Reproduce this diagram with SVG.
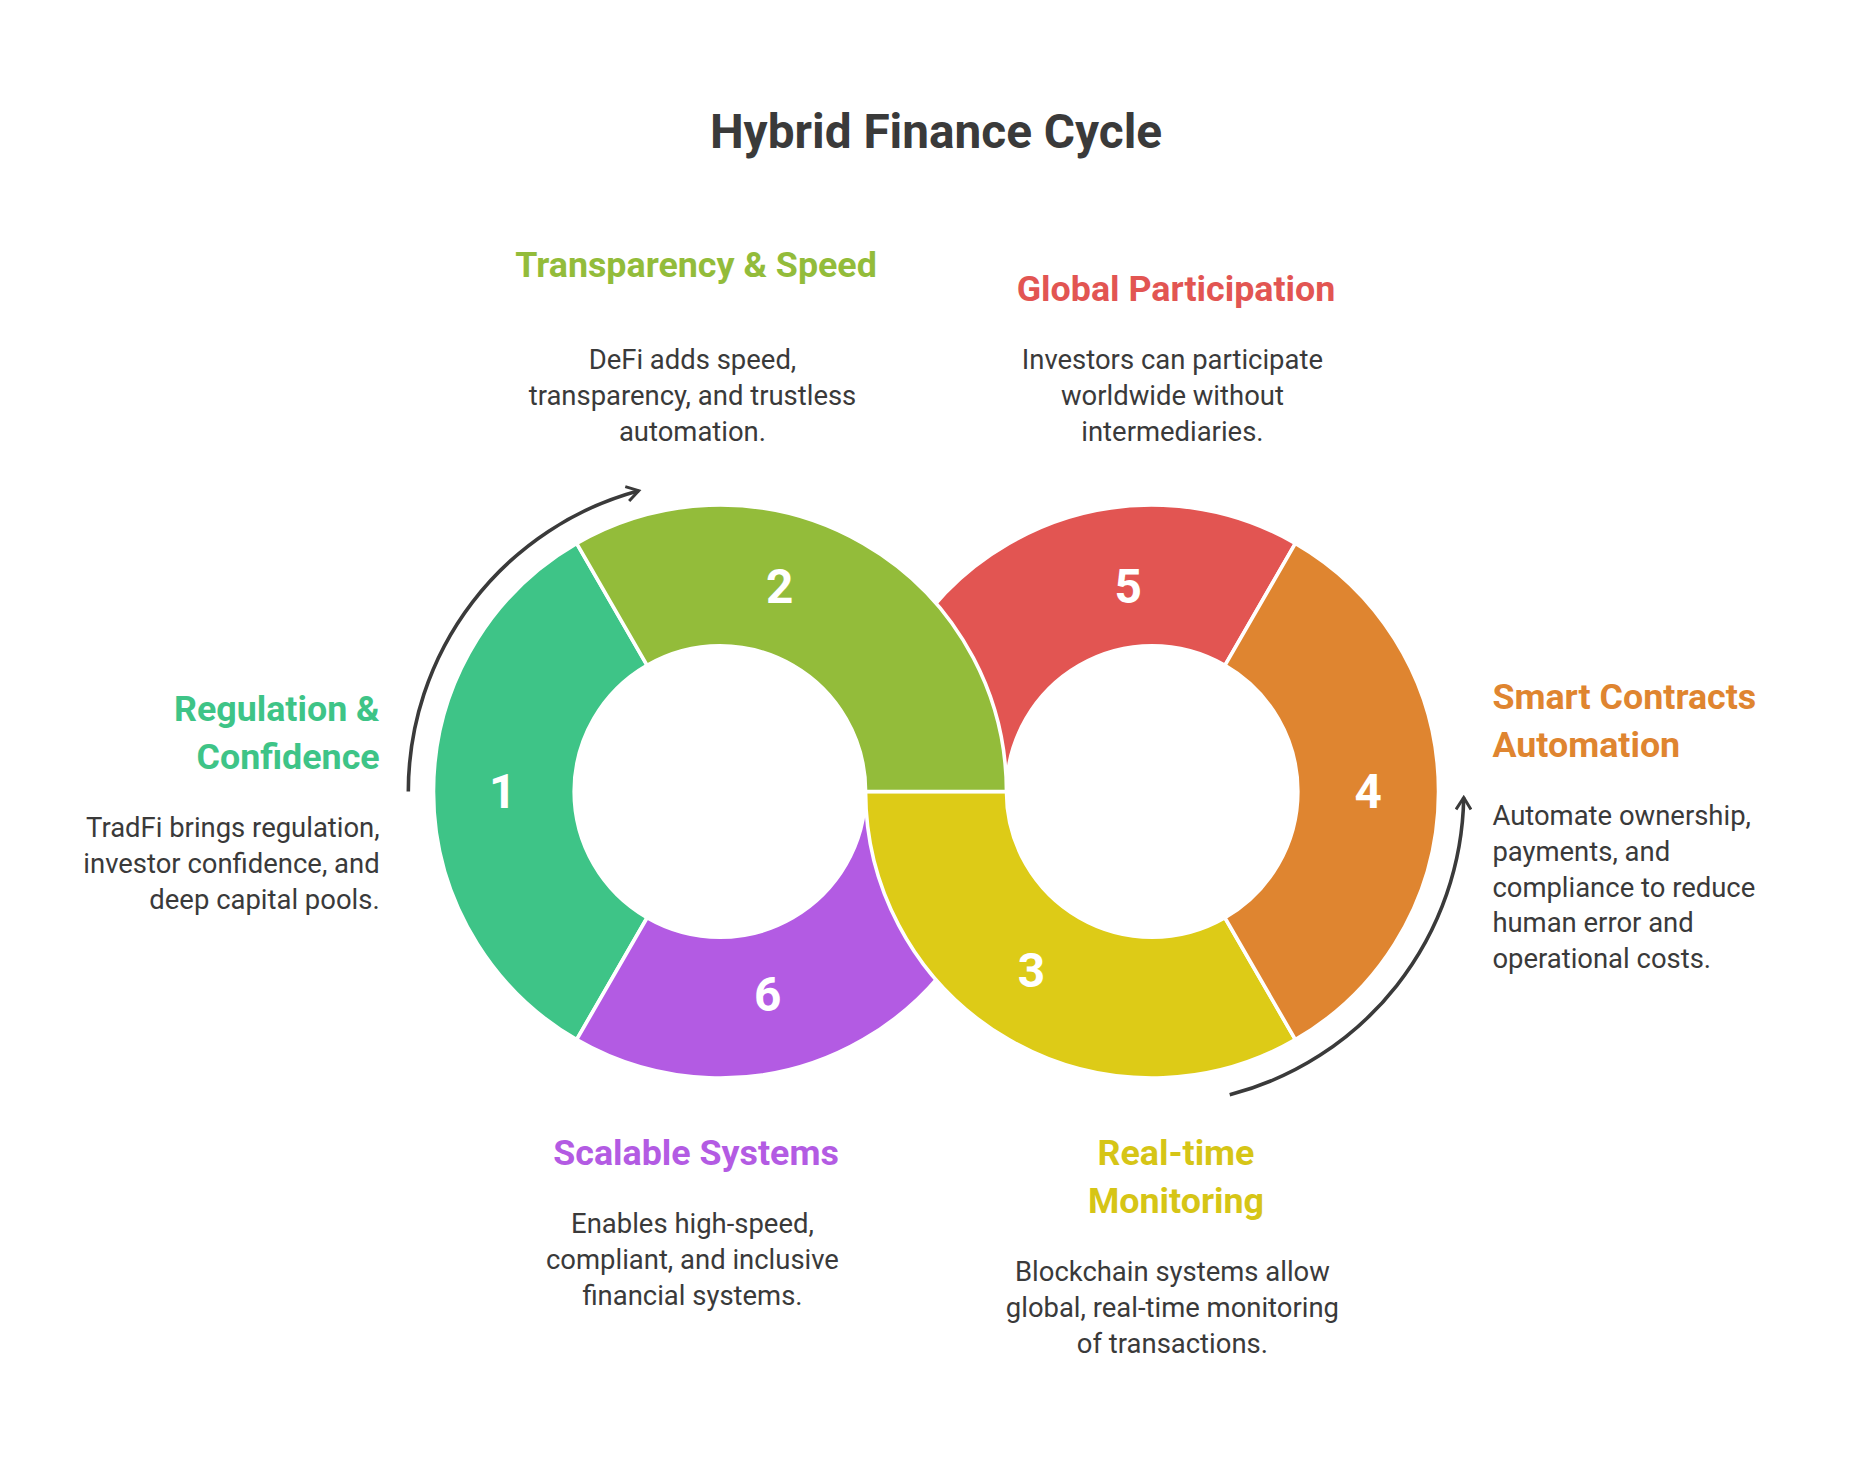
<svg xmlns="http://www.w3.org/2000/svg" width="1872" height="1464" viewBox="0 0 1872 1464">
<style>
text{font-family:Roboto,"Liberation Sans",sans-serif}
.t{font-size:40px;font-weight:700;fill:#3a3a3a}
.h{font-size:30px;font-weight:700}
.d{font-size:23px;fill:#3a3a3a}
.n{font-size:40px;font-weight:700;fill:#fff;text-anchor:middle;dominant-baseline:central}
.seg{stroke:#fff;stroke-width:3;stroke-linejoin:round}
.arc{fill:none;stroke:#3a3a3a;stroke-width:3;marker-end:url(#ah)}
</style>
<defs>
<marker id="ah" viewBox="0 0 12 12" refX="10" refY="6" markerWidth="5" markerHeight="5" orient="auto" markerUnits="strokeWidth">
<path d="M2,1 L10,6 L2,11" fill="none" stroke="#3a3a3a" stroke-width="2"/>
</marker>
</defs>
<rect width="1872" height="1464" fill="#fff"/>
<g transform="scale(1.1939)">
<text class="t" x="784" y="124" text-anchor="middle">Hybrid Finance Cycle</text>
<g id="connectors">
<path class="arc" d="M342,663 A261,261 0 0 1 535,411"/>
<path class="arc" d="M1030,917 A262,262 0 0 0 1226,668"/>
</g>
<g id="seg1"><path class="seg" fill="#3EC487" d="M483,455.2 A240,240 0 0 0 483,870.8 L542,768.7 A122,122 0 0 1 542,557.3 Z"/><text class="n" x="421" y="663">1</text></g>
<g id="seg6"><path class="seg" fill="#B35BE3" d="M843,663 A240,240 0 0 1 483,870.8 L542,768.7 A122,122 0 0 0 725,663 Z"/></g>
<g id="seg3"><path class="seg" fill="#DDCB17" d="M1085,870.8 A240,240 0 0 1 725,663 L843,663 A122,122 0 0 0 1026,768.7 Z"/><text class="n" x="864" y="813">3</text></g>
<text class="n" x="643" y="833">6</text>
<g id="seg5"><path class="seg" fill="#E25552" d="M725,663 A240,240 0 0 1 1085,455.2 L1026,557.3 A122,122 0 0 0 843,663 Z"/></g>
<g id="seg2"><path class="seg" fill="#93BC3A" d="M483,455.2 A240,240 0 0 1 843,663 L725,663 A122,122 0 0 0 542,557.3 Z"/><text class="n" x="653" y="492">2</text></g>
<text class="n" x="945" y="492">5</text>
<g id="seg4"><path class="seg" fill="#DF8530" d="M1085,455.2 A240,240 0 0 1 1085,870.8 L1026,768.7 A122,122 0 0 0 1026,557.3 Z"/><text class="n" x="1146" y="663">4</text></g>
<g id="label2"><text class="h" x="583" y="232" text-anchor="middle" fill="#93BC3A">Transparency &amp; Speed</text>
<text class="d" text-anchor="middle"><tspan x="580" y="309">DeFi adds speed,</tspan><tspan x="580" y="339">transparency, and trustless</tspan><tspan x="580" y="369">automation.</tspan></text></g>
<g id="label5"><text class="h" x="985" y="252" text-anchor="middle" fill="#E25552">Global Participation</text>
<text class="d" text-anchor="middle"><tspan x="982" y="309">Investors can participate</tspan><tspan x="982" y="339">worldwide without</tspan><tspan x="982" y="369">intermediaries.</tspan></text></g>
<g id="label1"><text class="h" text-anchor="end" fill="#3EC487"><tspan x="318" y="604">Regulation &amp;</tspan><tspan x="318" y="644">Confidence</tspan></text>
<text class="d" text-anchor="end"><tspan x="318" y="701">TradFi brings regulation,</tspan><tspan x="318" y="731">investor confidence, and</tspan><tspan x="318" y="761">deep capital pools.</tspan></text></g>
<g id="label4"><text class="h" fill="#DF8530"><tspan x="1250" y="594">Smart Contracts</tspan><tspan x="1250" y="634">Automation</tspan></text>
<text class="d"><tspan x="1250" y="691">Automate ownership,</tspan><tspan x="1250" y="721">payments, and</tspan><tspan x="1250" y="751">compliance to reduce</tspan><tspan x="1250" y="781">human error and</tspan><tspan x="1250" y="811">operational costs.</tspan></text></g>
<g id="label6"><text class="h" x="583" y="976" text-anchor="middle" fill="#B35BE3">Scalable Systems</text>
<text class="d" text-anchor="middle"><tspan x="580" y="1033">Enables high-speed,</tspan><tspan x="580" y="1063">compliant, and inclusive</tspan><tspan x="580" y="1093">financial systems.</tspan></text></g>
<g id="label3"><text class="h" text-anchor="middle" fill="#D6C516"><tspan x="985" y="976">Real-time</tspan><tspan x="985" y="1016">Monitoring</tspan></text>
<text class="d" text-anchor="middle"><tspan x="982" y="1073">Blockchain systems allow</tspan><tspan x="982" y="1103">global, real-time monitoring</tspan><tspan x="982" y="1133">of transactions.</tspan></text></g>
</g>
</svg>
